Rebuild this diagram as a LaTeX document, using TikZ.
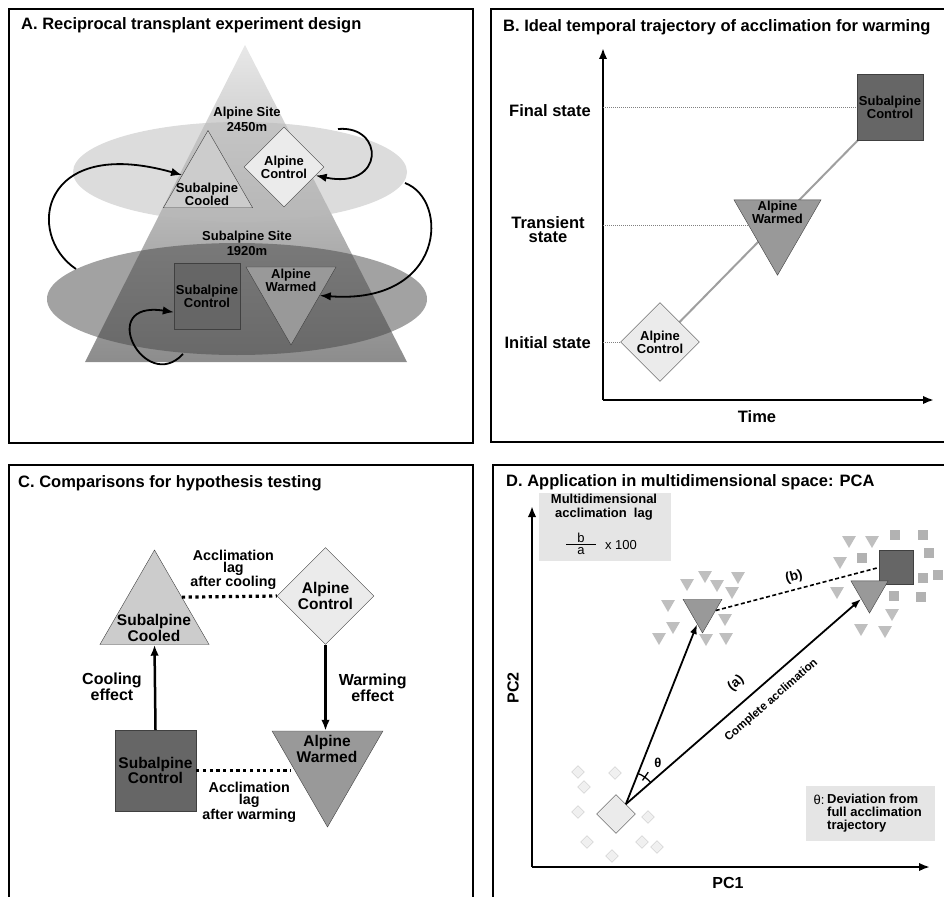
\documentclass[tikz,border=0pt]{standalone}
\usepackage{fontspec}
\setmainfont{Liberation Sans}
\usetikzlibrary{calc,shapes.geometric,backgrounds,arrows.meta}
\tikzset{>={Latex[length=11pt,width=8.5pt]}}
\newcommand{\fs}[2]{\fontsize{#1}{#2}\selectfont\bfseries}
\definecolor{scon}{gray}{0.40}
\definecolor{awarm}{gray}{0.60}
\definecolor{scool}{gray}{0.80}
\definecolor{acon}{gray}{0.92}
\definecolor{edge}{gray}{0.25}
\definecolor{pyrtop}{gray}{0.91}
\definecolor{pyrbot}{gray}{0.55}
\definecolor{upell}{gray}{0.725}
\definecolor{loell}{gray}{0.27}
\definecolor{boxgray}{gray}{0.9}
\tikzset{
  panel/.style={draw,line width=2.5pt},
  ttl/.style={anchor=base west,inner sep=0,font=\fs{16.5}{18}},
  txt/.style={inner sep=0,align=center,font=\fs{13}{11}},
  big/.style={inner sep=0,align=center,font=\fs{16.5}{14}},
  sqr/.style={draw=edge,fill=scon,inner sep=0,minimum size=#1},
  dia/.style={draw=edge,fill=acon,diamond,inner sep=0,minimum size=#1},
  up/.style={draw=edge,fill=scool,regular polygon,regular polygon sides=3,inner sep=0,minimum size=#1},
  down/.style={draw=edge,fill=awarm,regular polygon,regular polygon sides=3,shape border rotate=180,inner sep=0,minimum size=#1},
  sdia/.style={draw=gray!45,fill=gray!12,diamond,inner sep=0,minimum size=13pt},
  stri/.style={fill=gray!50,regular polygon,regular polygon sides=3,shape border rotate=180,inner sep=0,minimum size=16pt},
  ssq/.style={fill=gray!60,inner sep=0,minimum size=10pt},
  move/.style={->,line width=1.8pt},
  axis/.style={->,line width=2.5pt},
  guide/.style={gray,line width=0.8pt,dash pattern=on 1pt off 1pt},
  lag/.style={line width=3.2pt,dash pattern=on 3.2pt off 3.5pt},
  lagl/.style={inner sep=0,align=center,font=\fs{14.3}{12.3}},
}

\begin{document}
\begin{tikzpicture}[x=1pt,y=-1pt]
  \useasboundingbox (0,0) rectangle (944,896);
  % frames
  \draw[panel] (9,9) rectangle (473,443);
  \draw[panel] (491,9) rectangle (960,442);
  \draw[panel] (9,465) rectangle (473,910);
  \draw[panel] (493,465) rectangle (960,910);
  \node[ttl] (ta) at (21,30) {A. Reciprocal transplant experiment design};
  \node[ttl] (tb) at (503,32) {B. Ideal temporal trajectory of acclimation for warming};
  \node[ttl] (tc) at (18,487) {C. Comparisons for hypothesis testing};
  \node[ttl] (td) at (506,486) {D. Application in multidimensional space: PCA};

  % A: mountain and sites
  \shade[top color=pyrtop,bottom color=pyrbot] (245,45) -- (407,362) -- (85,362) -- cycle;
  \fill[upell,fill opacity=0.5] (240,172) ellipse [x radius=167,y radius=50];
  \fill[loell,fill opacity=0.5] (237,299) ellipse [x radius=190,y radius=56];
  \node[txt,font=\fs{13}{15}] (alp) at (247,119) {Alpine Site\\2450m};
  \node[txt,font=\fs{13}{15}] (sub) at (247,243) {Subalpine Site\\1920m};
  \node[up=103pt] (asc) at (208,182) {};
  \node[txt] (asct) at (207,194) {Subalpine\\Cooled};
  \node[dia=80pt,txt] (aac) at (284,167) {Alpine\\Control};
  \node[sqr=66pt,txt] (asn) at (207,296) {Subalpine\\Control};
  \node[down=104pt] (aaw) at (291,293) {};
  \node[txt] (aawt) at (291,280) {Alpine\\Warmed};
  % A: transplants
  \coordinate (a1) at (76,269);
  \coordinate (a2) at (338,129);
  \coordinate (a3) at (405,183);
  \coordinate (a4) at (183,354);
  \draw[move] (a1) .. controls (25,235) and (40,135) .. (asc.165);
  \draw[move] (a2) .. controls (385,125) and (385,190) .. (aac.-15);
  \draw[move] (a3) .. controls (450,200) and (445,305) .. (aaw.-5);
  \draw[move] (a4) .. controls (145,395) and (95,300) .. (asn.206);

  % B: axes
  \coordinate (bo) at (603,400);
  \coordinate (by) at (603,48);
  \coordinate (bx) at (934,400);
  \draw[axis] (bo) -- (by);
  \draw[axis] (bo) -- (bx);
  \node[dia=79pt,txt] (bac) at (660,342) {Alpine\\Control};
  \node[down=100.5pt] (baw) at (777.5,225) {};
  \node[txt] (bawt) at (777.5,212) {Alpine\\Warmed};
  \node[sqr=66pt,txt] (bsc) at (890,107.5) {Subalpine\\Control};
  \begin{scope}[on background layer]
    \draw[gray!75,line width=2pt] (bac.center) -- (bsc.center);
  \end{scope}
  \draw[guide] (bo |- bsc.west) -- (bsc.west);
  \draw[guide] (bo |- baw.west) -- (baw.west);
  \draw[guide] (bo |- bac.west) -- (bac.west);
  \node[big,anchor=east] (fin) at (591,111) {Final state};
  \node[big] (tra) at (548,230) {Transient\\state};
  \node[big,anchor=east] (ini) at (591,343) {Initial state};
  \node[big] (time) at (757,417) {Time};

  % C: comparisons
  \node[up=126pt] (ccl) at (154.5,613) {};
  \node[txt,font=\fs{15.5}{12.7}] (cclt) at (154,628) {Subalpine\\Cooled};
  \node[dia=97pt,txt,font=\fs{15.5}{12.7}] (cac) at (325.5,596) {Alpine\\Control};
  \node[sqr=81pt,txt,font=\fs{15.5}{12.7}] (csn) at (155.5,770.5) {Subalpine\\Control};
  \node[down=128pt] (caw) at (327.5,763) {};
  \node[txt,font=\fs{15.5}{12.7}] (cawt) at (327,749) {Alpine\\Warmed};
  \draw[move,line width=2.5pt] (csn.north) -- node[left=12pt,big,font=\fs{16}{14}] {Cooling\\effect} (ccl.south);
  \draw[move,line width=2.5pt] (cac.south) -- node[right=12pt,big,font=\fs{16}{14}] {Warming\\effect} (cac.south |- caw.north);
  \draw[lag] (ccl.side 3) -- node[above=5pt,xshift=4pt,lagl] {Acclimation\\lag\\after cooling} (cac.west);
  \draw[lag] (csn.east) -- node[below=10pt,xshift=6pt,lagl] {Acclimation\\lag\\after warming} (csn.east -| caw.west);

  % D: axes and boxes
  \coordinate (po) at (532,867);
  \coordinate (py) at (532,506);
  \coordinate (px) at (930,867);
  \draw[axis] (po) -- (py);
  \draw[axis] (po) -- (px);
  \node[rotate=90,big,font=\fs{16}{16}] (pc2) at (513,688) {PC2};
  \node[big,font=\fs{16}{16}] (pc1) at (728,883) {PC1};
  \node[fill=boxgray,minimum width=132pt,minimum height=68pt,inner sep=0] (lagbox) at (605,527) {};
  \node[txt,font=\fs{13}{14}] (lagt) at (604,507) {Multidimensional\\acclimation~~lag};
  \node[inner sep=0,font=\fontsize{13}{13}\selectfont] (fb) at (581,538) {b};
  \node[inner sep=0,font=\fontsize{13}{13}\selectfont] (fa) at (581,551) {a};
  \draw[line width=0.6pt] ($(fb)!0.5!(fa)+(-15,0)$) -- ++(30,0);
  \node[inner sep=0,font=\fontsize{13}{13}\selectfont] (x100) at (621,545) {x 100};
  \node[fill=boxgray,minimum width=129pt,minimum height=55pt,inner sep=0] (thbox) at (870.5,813.5) {};
  \node[inner sep=0,font=\fontsize{13}{13}\selectfont] (ths) at (819,800) {θ:};
  \node[inner sep=0,align=left,anchor=west,font=\fs{13}{13}] (tht) at (827,813) {Deviation from\\full acclimation\\trajectory};

  % D: sample clouds
  \foreach \p [count=\i] in {(578,772),(615,773),(584,787),(578,812),(648,817),(587,842),(642,842),(657,847),(612,856)}
    \node[sdia] (sd\i) at \p {};
  \foreach \p [count=\i] in {(668,604),(687,583),(705,575),(717,584),(738,576),(732,591),(725,618),(673,626),(659,637),(706,638),(726,637),
      (849,540),(872,540),(840,561),(837,591),(892,613),(861,628),(885,630)}
    \node[stri] (st\i) at \p {};
  \foreach \p [count=\i] in {(895,535),(923,535),(862,558),(929,553),(923,578),(938,575),(894,596),(921,597)}
    \node[ssq] (ss\i) at \p {};

  % D: trajectories
  \node[dia=39pt] (pac) at (616,814) {};
  \node[down=45pt] (paw) at (702.5,610.5) {};
  \node[sqr=34pt] (psc) at (896,567.5) {};
  \node[down=43pt] (pfw) at (869.5,591.6) {};
  \draw[line width=1.6pt,dash pattern=on 4pt off 2.5pt] (paw.east) -- node[sloped,above=2pt,font=\fs{13.5}{14}] {(b)} (psc.west);
  \draw[move,>={Latex[length=10pt,width=7pt]}] (pac.north east) -- (paw);
  \draw[move,>={Latex[length=10pt,width=7pt]}] (pac.north east) -- node[pos=.52,sloped,above=8pt,font=\fs{13.5}{14}] {(a)}
    node[pos=.57,sloped,below=8pt,font=\fs{11.5}{12}] {Complete acclimation} (pfw);
  \draw[line width=1.3pt] ([shift={(-40:33)}]pac.north east) arc[start angle=-40,end angle=-70,radius=33];
  \draw[line width=1.3pt] ([shift={(-55:29)}]pac.north east) -- ([shift={(-55:39)}]pac.north east);
  \node[inner sep=0,font=\fs{13}{13}] (th) at ([shift={(-52:52)}]pac.north east) {θ};
\end{tikzpicture}
\end{document}
